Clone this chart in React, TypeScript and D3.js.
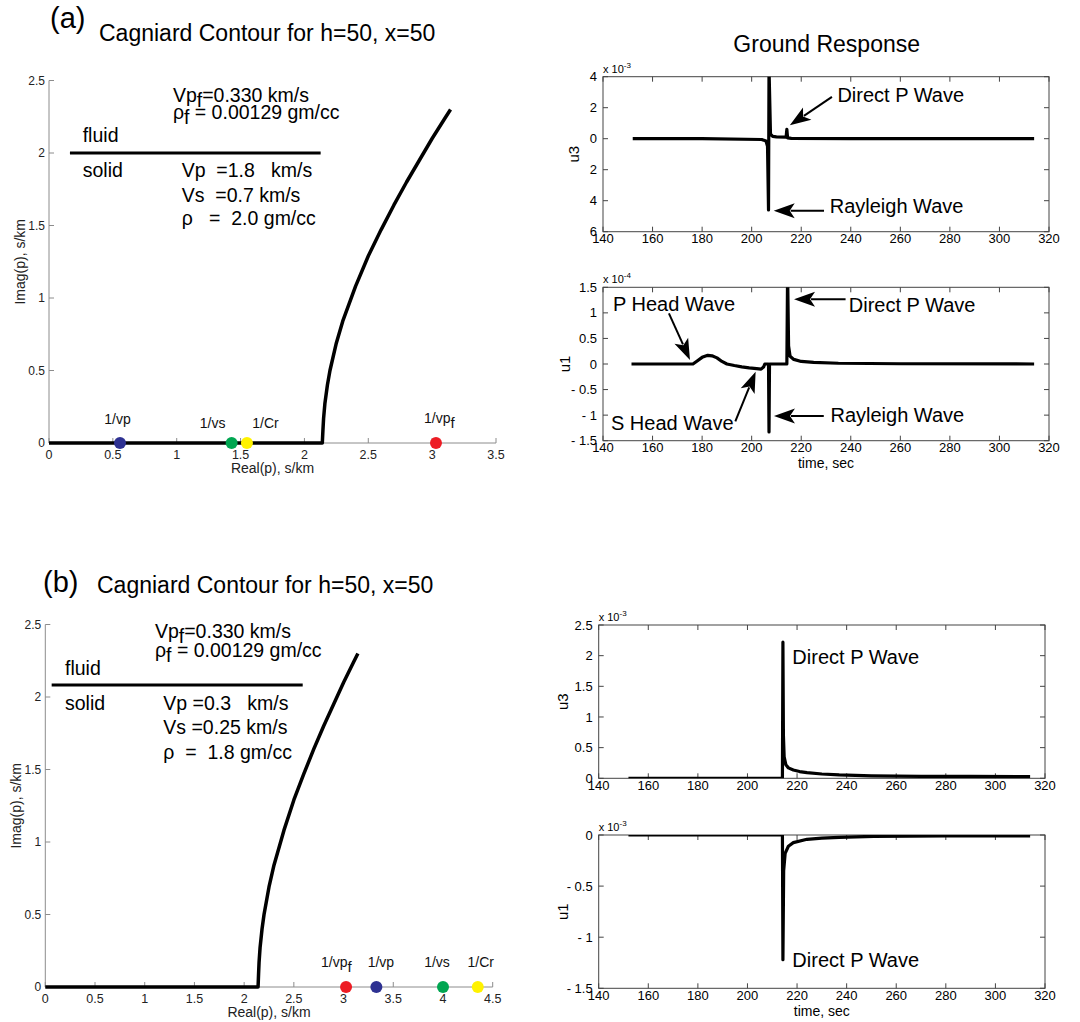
import React from "react";
import * as d3 from "d3";

const FONT = "'Liberation Sans', Arial, Helvetica, sans-serif";

type Pt = [number, number];

// Cagniard contour (Real(p), Imag(p)) in s/km, same fluid for both cases
const contourPts: Pt[] = [
  [0, 0], [2.14, 0], [2.145, 0.09], [2.15, 0.17], [2.16, 0.27], [2.18, 0.4],
  [2.2, 0.5], [2.25, 0.69], [2.3, 0.84], [2.4, 1.08], [2.5, 1.29], [2.6, 1.47],
  [2.7, 1.64], [2.8, 1.8], [2.9, 1.95], [3.0, 2.1], [3.1, 2.24], [3.144, 2.3],
];

// slowness markers on the real axis
const markersA = [
  { label: "1/vp", sub: "", re: 0.556, color: "#2e3192" },
  { label: "1/vs", sub: "", re: 1.43, color: "#00a651" },
  { label: "1/Cr", sub: "", re: 1.55, color: "#fff200" },
  { label: "1/vp", sub: "f", re: 3.03, color: "#ed1c24" },
];
const markersB = [
  { label: "1/vp", sub: "f", re: 3.025, color: "#ed1c24" },
  { label: "1/vp", sub: "", re: 3.33, color: "#2e3192" },
  { label: "1/vs", sub: "", re: 4.0, color: "#00a651" },
  { label: "1/Cr", sub: "", re: 4.35, color: "#fff200" },
];

// medium descriptions
const notesA = [
  { parts: [["Vp"], ["f", 1], ["=0.330 km/s"]], re: 0.97, im: 2.35 },
  { parts: [["ρ"], ["f", 1], [" = 0.00129 gm/cc"]], re: 0.97, im: 2.234 },
  { parts: [["fluid"]], re: 0.264, im: 2.078 },
  { parts: [["solid"]], re: 0.264, im: 1.837 },
  { parts: [["Vp  =1.8   km/s"]], re: 1.039, im: 1.837 },
  { parts: [["Vs  =0.7 km/s"]], re: 1.039, im: 1.664 },
  { parts: [["ρ   =  2.0 gm/cc"]], re: 1.039, im: 1.503 },
];
const notesB = [
  { parts: [["Vp"], ["f", 1], ["=0.330 km/s"]], re: 1.103, im: 2.405 },
  { parts: [["ρ"], ["f", 1], [" = 0.00129 gm/cc"]], re: 1.103, im: 2.274 },
  { parts: [["fluid"]], re: 0.198, im: 2.152 },
  { parts: [["solid"]], re: 0.198, im: 1.91 },
  { parts: [["Vp =0.3   km/s"]], re: 1.187, im: 1.91 },
  { parts: [["Vs =0.25 km/s"]], re: 1.187, im: 1.743 },
  { parts: [["ρ  =  1.8 gm/cc"]], re: 1.187, im: 1.572 },
];
const dividerA = { from: 0.164, to: 2.127, im: 2.0 };
const dividerB = { from: 0.064, to: 2.589, im: 2.083 };

// ground response traces: [time s, amplitude]
const timeTicks = [140, 160, 180, 200, 220, 240, 260, 280, 300, 320];

const u3A: Pt[] = [ // x 1e-3
  [152, 0], [180, 0], [204, -0.05], [205.8, -0.15], [206.4, -0.5], [206.8, -4.6],
  [207.0, 4.6], [207.6, 0.3], [208.5, 0.15], [210, 0.12], [213.9, 0.1],
  [214.2, 0.6], [214.5, 0.05], [216, 0.02], [240, 0], [314, 0],
];
const u1A: Pt[] = [ // x 1e-4
  [151.5, 0], [176.3, 0], [178, 0.06], [180, 0.13], [182.3, 0.17], [184, 0.16],
  [186, 0.12], [188, 0.05], [190, 0.0], [193, -0.03], [196, -0.055],
  [199, -0.075], [202, -0.09], [203.8, -0.1], [204.8, -0.06], [205.3, 0],
  [206.8, 0], [207.0, -1.33], [207.2, 0], [214.2, 0], [214.5, 1.8],
  [214.9, 0.35], [215.5, 0.15], [217, 0.09], [220, 0.05], [225, 0.03],
  [235, 0.015], [260, 0.005], [314, 0],
];
const u3B: Pt[] = [ // x 1e-3
  [152, 0], [214.1, 0], [214.3, 2.22], [214.5, 0.7], [214.8, 0.35],
  [215.5, 0.22], [216.5, 0.17], [218.5, 0.135], [221, 0.11], [224, 0.092],
  [230, 0.07], [237, 0.055], [250, 0.04], [270, 0.033], [290, 0.03], [314, 0.027],
];
const u1B: Pt[] = [ // x 1e-3
  [152, 0], [214.1, 0], [214.3, -1.22], [214.6, -0.35], [215.2, -0.18],
  [216.5, -0.11], [218.5, -0.075], [224, -0.042], [230, -0.03], [237, -0.023],
  [251, -0.013], [280, -0.01], [314, -0.008],
];

const u3ATicks = [-6, -4, -2, 0, 2, 4];
const u3ATickLabels = ["6", "4", "2", "0", "2", "4"];
const u1ATicks = [-1.5, -1, -0.5, 0, 0.5, 1, 1.5];
const u1ATickLabels = ["- 1.5", "- 1", "- 0.5", "0", "0.5", "1", "1.5"];
const u3BTicks = [0, 0.5, 1, 1.5, 2, 2.5];
const u3BTickLabels = ["0", "0.5", "1", "1.5", "2", "2.5"];
const u1BTicks = [-1.5, -1, -0.5, 0];
const u1BTickLabels = ["- 1.5", "- 1", "- 0.5", "0"];

// annotations in data coordinates (time, amplitude)
const u3ANotes = [
  { text: "Direct P Wave", t: 234.6, v: 2.38 },
  { text: "Rayleigh Wave", t: 231.5, v: -4.8 },
];
const u3AArrows = [
  { from: [232.4, 2.7], to: [215.4, 0.86] },
  { from: [229.2, -4.65], to: [208.9, -4.65] },
];
const u1ANotes = [
  { text: "P Head Wave", t: 144, v: 1.04 },
  { text: "Direct P Wave", t: 239.2, v: 1.023 },
  { text: "S Head Wave", t: 143.2, v: -1.3 },
  { text: "Rayleigh Wave", t: 231.8, v: -1.134 },
];
const u1AArrows = [
  { from: [166.6, 0.99], to: [175.1, 0.08] },
  { from: [237.9, 1.265], to: [217.1, 1.265] },
  { from: [193.4, -1.12], to: [201.6, -0.15] },
  { from: [229.1, -1.017], to: [209, -1.017] },
];
const u3BNotes = [{ text: "Direct P Wave", t: 218.1, v: 1.866 }];
const u1BNotes = [{ text: "Direct P Wave", t: 218.1, v: -1.289 }];

// layout (pixels)
const contourBoxA = { left: 49, right: 496, top: 80.5, bottom: 443, xMax: 3.5, labelX: 20 };
const contourBoxB = { left: 45.3, right: 492.7, top: 624.5, bottom: 987, xMax: 4.5, labelX: 16 };
const markerOffsetsA = [[-2.5, -19, "middle"], [-19, -15, "middle"], [18.5, -15, "middle"], [-12, -20, "start"]];
const markerOffsetsB = [[-25, -20, "start"], [4.5, -20, "middle"], [-6, -20, "middle"], [3, -20, "middle"]];

function Arrow({ x1, y1, x2, y2 }: { x1: number; y1: number; x2: number; y2: number }) {
  const ang = Math.atan2(y2 - y1, x2 - x1);
  const len = 21, hw = 7.5;
  const c = Math.cos(ang), s = Math.sin(ang);
  const bx = x2 - len * c, by = y2 - len * s;
  const px = -s * hw, py = c * hw;
  return (
    <g>
      <line x1={x1} y1={y1} x2={bx + 4 * c} y2={by + 4 * s} stroke="#000" strokeWidth={2} />
      <polygon points={`${x2},${y2} ${bx + px},${by + py} ${bx + 5 * c},${by + 5 * s} ${bx - px},${by - py}`} fill="#000" />
    </g>
  );
}

function ContourPanel({ box, markers, offsets, notes, divider }: any) {
  const x = d3.scaleLinear().domain([0, box.xMax]).range([box.left, box.right]);
  const y = d3.scaleLinear().domain([0, 2.5]).range([box.bottom, box.top]);
  const line = d3.line<Pt>().x((d) => x(d[0])).y((d) => y(d[1]));
  const xTicks = d3.range(0, box.xMax + 0.25, 0.5);
  const yTicks = d3.range(0, 2.75, 0.5);
  const axisCol = "#8c8c8c";
  return (
    <g>
      <line x1={x(0)} x2={x(box.xMax)} y1={y(0)} y2={y(0)} stroke={axisCol} />
      <line x1={x(0)} x2={x(0)} y1={y(0)} y2={y(2.5)} stroke={axisCol} />
      {xTicks.map((v) => (
        <g key={"x" + v}>
          <line x1={x(v)} x2={x(v)} y1={y(0)} y2={y(0) - 5} stroke={axisCol} />
          <text x={x(v)} y={y(0) + 15.5} fontSize={12.5} textAnchor="middle" fill="#222">{v}</text>
        </g>
      ))}
      {yTicks.map((v) => (
        <g key={"y" + v}>
          <line x1={x(0)} x2={x(0) + 5} y1={y(v)} y2={y(v)} stroke={axisCol} />
          <text x={x(0) - 4} y={y(v)} dy="0.35em" fontSize={12} textAnchor="end" fill="#222">{v}</text>
        </g>
      ))}
      <text x={(box.left + box.right) / 2} y={box.bottom + 29.5} fontSize={14} textAnchor="middle" fill="#222">Real(p), s/km</text>
      <text transform={`translate(${box.labelX},${(box.top + box.bottom) / 2}) rotate(-90)`} dy="0.35em" fontSize={14} textAnchor="middle" fill="#222">Imag(p), s/km</text>
      <path d={line(contourPts) || ""} fill="none" stroke="#000" strokeWidth={3.5} strokeLinejoin="round" />
      <line x1={x(divider.from)} x2={x(divider.to)} y1={y(divider.im)} y2={y(divider.im)} stroke="#000" strokeWidth={3} />
      {notes.map((n: any, i: number) => (
        <text key={i} x={x(n.re)} y={y(n.im)} fontSize={19.5} style={{ whiteSpace: "pre" }}>
          {n.parts.map((p: any, j: number) => (
            <tspan key={j} dy={p[1] ? 5 : j > 0 && n.parts[j - 1][1] ? -5 : 0}>{p[0]}</tspan>
          ))}
        </text>
      ))}
      {markers.map((m: any, i: number) => {
        const [dx, dy, anchor] = offsets[i];
        return (
          <g key={i}>
            <circle cx={x(m.re)} cy={y(0)} r={6} fill={m.color} />
            <text x={x(m.re) + dx} y={y(0) + dy} fontSize={14} textAnchor={anchor} fill="#111">
              {m.label}
              {m.sub && <tspan dy={5} fontSize={15}>{m.sub}</tspan>}
            </text>
          </g>
        );
      })}
    </g>
  );
}

function TracePanel({ id, box, data, yDomain, yTicks, yTickLabels, exp, yLabel, yLabelDx, xLabel, notes, arrows }: any) {
  const x = d3.scaleLinear().domain([140, 320]).range([box.left, box.right]);
  const y = d3.scaleLinear().domain(yDomain).range([box.bottom, box.top]);
  const line = d3.line<Pt>().x((d) => x(d[0])).y((d) => y(d[1]));
  const col = "#444";
  return (
    <g>
      <defs>
        <clipPath id={id}>
          <rect x={box.left} y={box.top} width={box.right - box.left} height={box.bottom - box.top} />
        </clipPath>
      </defs>
      <rect x={box.left} y={box.top} width={box.right - box.left} height={box.bottom - box.top} fill="none" stroke={col} />
      {timeTicks.map((t) => (
        <g key={"t" + t}>
          <line x1={x(t)} x2={x(t)} y1={box.bottom} y2={box.bottom - 5} stroke={col} />
          <line x1={x(t)} x2={x(t)} y1={box.top} y2={box.top + 5} stroke={col} />
          <text x={x(t)} y={box.bottom + 11.5} fontSize={13} textAnchor="middle">{t}</text>
        </g>
      ))}
      {yTicks.map((v: number, i: number) => (
        <g key={"v" + v}>
          <line x1={box.left} x2={box.left + 5} y1={y(v)} y2={y(v)} stroke={col} />
          <line x1={box.right} x2={box.right - 5} y1={y(v)} y2={y(v)} stroke={col} />
          <text x={box.left - 6} y={y(v)} dy="0.35em" fontSize={13} textAnchor="end" style={{ whiteSpace: "pre" }}>{yTickLabels[i]}</text>
        </g>
      ))}
      <text x={box.left} y={box.top - 4} fontSize={11}>
        x 10<tspan dy={-5} fontSize={8}>{exp}</tspan>
      </text>
      <text transform={`translate(${box.left - yLabelDx},${(box.top + box.bottom) / 2}) rotate(-90)`} dy="0.35em" fontSize={15} textAnchor="middle">{yLabel}</text>
      {xLabel && (
        <text x={(box.left + box.right) / 2} y={box.bottom + 27.5} fontSize={14} textAnchor="middle">time, sec</text>
      )}
      <path d={line(data) || ""} fill="none" stroke="#000" strokeWidth={3.2} strokeLinejoin="round" clipPath={`url(#${id})`} />
      {notes.map((n: any, i: number) => (
        <text key={i} x={x(n.t)} y={y(n.v)} fontSize={20}>{n.text}</text>
      ))}
      {(arrows || []).map((a: any, i: number) => (
        <Arrow key={i} x1={x(a.from[0])} y1={y(a.from[1])} x2={x(a.to[0])} y2={y(a.to[1])} />
      ))}
    </g>
  );
}

export default function App() {
  return (
    <svg width={1080} height={1022} style={{ position: "absolute", left: 0, top: 0 }} fontFamily={FONT}>
      <rect width={1080} height={1022} fill="#fff" />
      <text x={50} y={28} fontSize={29}>(a)</text>
      <text x={99} y={41} fontSize={23}>Cagniard Contour for h=50, x=50</text>
      <text x={43} y={592} fontSize={29}>(b)</text>
      <text x={97} y={593} fontSize={23}>Cagniard Contour for h=50, x=50</text>
      <text x={826.7} y={52} fontSize={23} textAnchor="middle">Ground Response</text>

      <ContourPanel box={contourBoxA} markers={markersA} offsets={markerOffsetsA} notes={notesA} divider={dividerA} />
      <ContourPanel box={contourBoxB} markers={markersB} offsets={markerOffsetsB} notes={notesB} divider={dividerB} />

      <TracePanel id="clipU3A" box={{ left: 603, right: 1049, top: 76.7, bottom: 231.7 }} data={u3A}
        yDomain={[-6, 4]} yTicks={u3ATicks} yTickLabels={u3ATickLabels} exp="-3" yLabel="u3" yLabelDx={29.5}
        notes={u3ANotes} arrows={u3AArrows} />
      <TracePanel id="clipU1A" box={{ left: 603, right: 1049, top: 287.3, bottom: 440.7 }} data={u1A}
        yDomain={[-1.5, 1.5]} yTicks={u1ATicks} yTickLabels={u1ATickLabels} exp="-4" yLabel="u1" yLabelDx={38}
        xLabel notes={u1ANotes} arrows={u1AArrows} />
      <TracePanel id="clipU3B" box={{ left: 598.7, right: 1045, top: 625, bottom: 778.3 }} data={u3B}
        yDomain={[0, 2.5]} yTicks={u3BTicks} yTickLabels={u3BTickLabels} exp="-3" yLabel="u3" yLabelDx={35.7}
        notes={u3BNotes} />
      <TracePanel id="clipU1B" box={{ left: 598.7, right: 1045, top: 835, bottom: 988.3 }} data={u1B}
        yDomain={[-1.5, 0]} yTicks={u1BTicks} yTickLabels={u1BTickLabels} exp="-3" yLabel="u1" yLabelDx={35.7}
        xLabel notes={u1BNotes} />
    </svg>
  );
}
